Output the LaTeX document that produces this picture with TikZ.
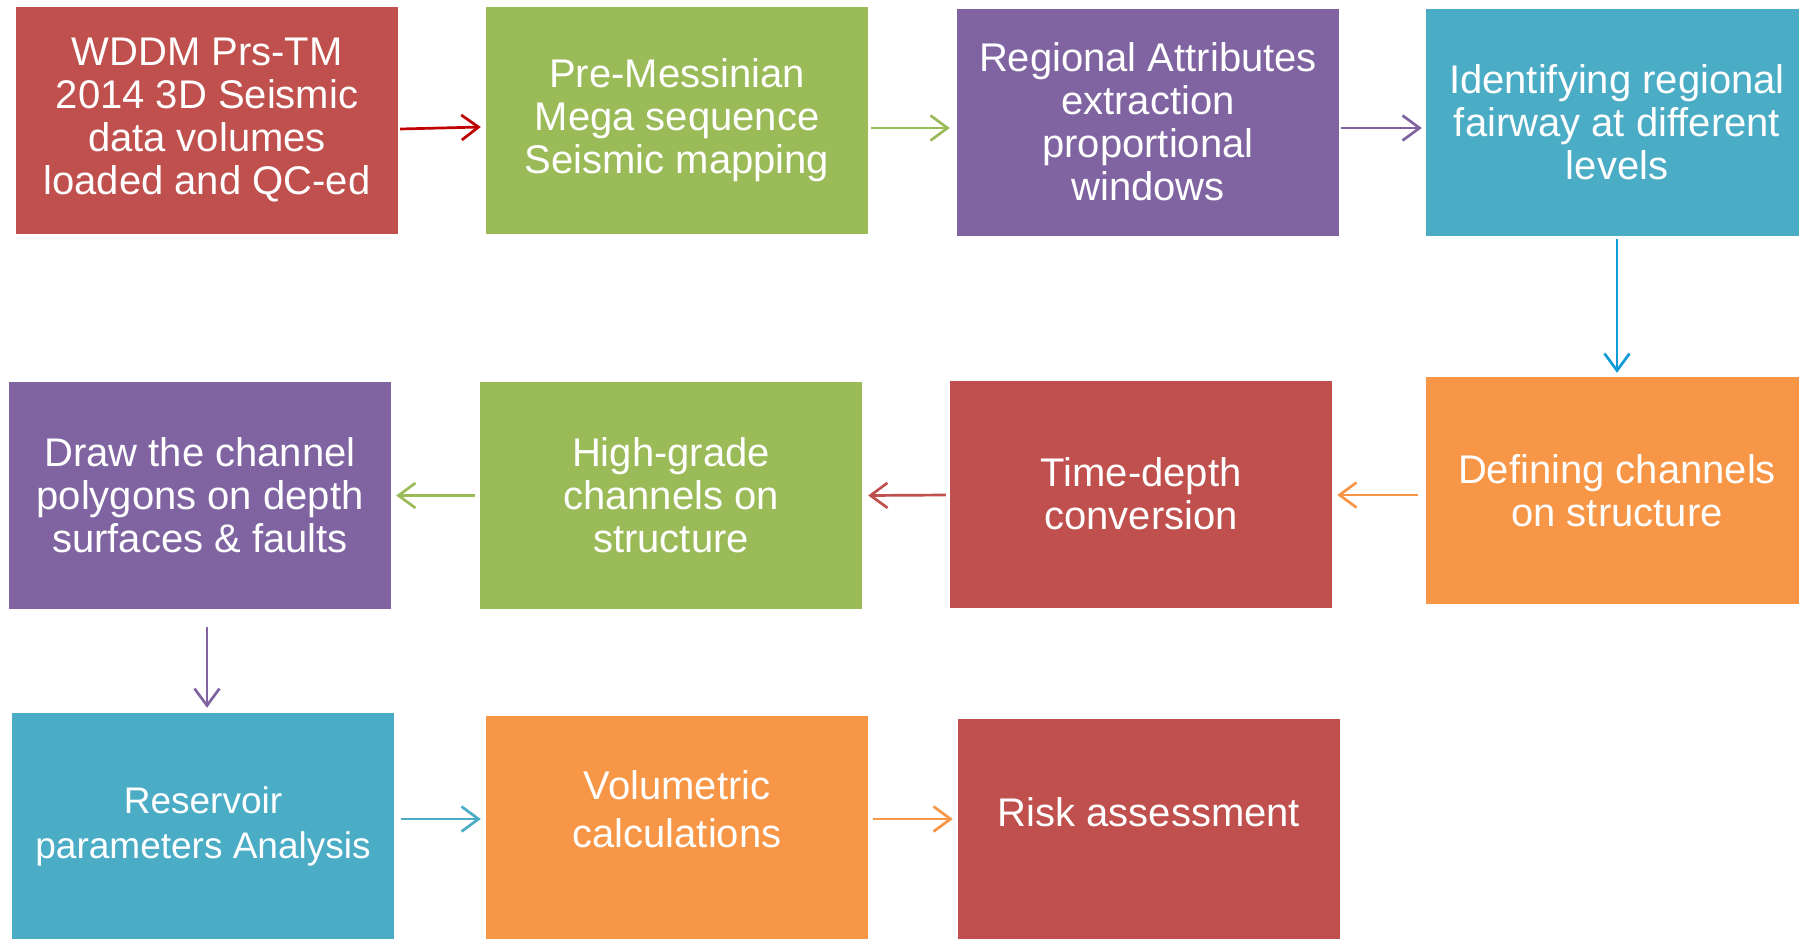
\documentclass[tikz,border=0pt]{standalone}
\usepackage{fontspec}
\setmainfont{Liberation Sans}
\usetikzlibrary{arrows.meta}
\definecolor{ored}{HTML}{C0504D}
\definecolor{ogreen}{HTML}{9BBB59}
\definecolor{opurple}{HTML}{8064A2}
\definecolor{oaqua}{HTML}{4BACC6}
\definecolor{oorange}{HTML}{F79646}
\definecolor{dred}{HTML}{C00000}
\definecolor{dblue}{HTML}{119BD6}
\begin{document}
\begin{tikzpicture}[x=1pt,y=-1pt,
		box/.style={minimum width=382pt, minimum height=227pt, inner sep=0pt},
		txt/.style={text=white, align=center, font=\fontsize{40}{43}\selectfont},
		link/.style={line width=2.7pt, -{Straight Barb[length=17pt,width=25pt]}}]
		\useasboundingbox (0, 0) rectangle (1799, 938);
		\clip (0, 0) rectangle (1799, 938);
		%%%%%%%%%%%%%
		\node [box, txt, fill = ored] (b1) at (207, 120) {WDDM Prs-TM\\2014 3D Seismic\\data volumes\\loaded and QC-ed};
		\node [box, txt, fill = ogreen] (b2) at (677, 120) {Pre-Messinian\\Mega sequence\\Seismic mapping};
		\node [box, txt, fill = opurple] (b3) at (1148, 122) {Regional Attributes\\extraction\\proportional\\windows};
		\node [box, txt, fill = oaqua] (b4) at (1617, 122) {Identifying regional\\fairway at different\\levels};
		\node [box, txt, fill = oorange] (b5) at (1617, 490.5) {Defining channels\\on structure};
		\node [box, txt, fill = ored] (b6) at (1141, 494) {Time-depth\\conversion};
		\node [box, txt, fill = ogreen] (b7) at (671, 495.5) {High-grade\\channels on\\structure};
		\node [box, txt, fill = opurple] (b8) at (200, 495.5) {Draw the channel\\polygons on depth\\surfaces \& faults};
		\node [box, txt, fill = oaqua, font=\fontsize{37}{45}\selectfont] (b9) at (203, 826.5) {Reservoir\\parameters Analysis};
		\node [box, fill = oorange] (b10) at (677, 829.5) {};
		\node [box, fill = ored] (b11) at (1149, 832.5) {};
		\node [txt, font=\fontsize{40}{48}\selectfont] (t10) at ([yshift=20pt]b10.center) {Volumetric\\calculations};
		\node [txt] (t11) at ([yshift=20pt]b11.center) {Risk assessment};
		%%%%%%%%%%%%%
		\draw [link, dred] ([shift={(2,9)}]b1.east) to ([shift={(-5,7)}]b2.west);
		\draw [link, ogreen] ([shift={(3,8)}]b2.east) to ([shift={(-7,6)}]b3.west);
		\draw [link, opurple] ([shift={(2,6)}]b3.east) to ([shift={(-4,6)}]b4.west);
		\draw [link, dblue] ([shift={(0,3)}]b4.south) to ([shift={(0,-4)}]b5.north);
		\draw [link, oorange] ([shift={(-8,4.5)}]b5.west) to ([shift={(5,1)}]b6.east);
		\draw [link, ored] ([shift={(-4,1)}]b6.west) to ([shift={(6,0)}]b7.east);
		\draw [link, ogreen] ([shift={(-5,0)}]b7.west) to ([shift={(5,0)}]b8.east);
		\draw [link, opurple] ([shift={(7,18)}]b8.south) to ([shift={(4,-5)}]b9.north);
		\draw [link, oaqua] ([shift={(7,-7.5)}]b9.east) to ([shift={(-5,-10.5)}]b10.west);
		\draw [link, oorange] ([shift={(5,-10.5)}]b10.east) to ([shift={(-5,-13.5)}]b11.west);
	\end{tikzpicture}
\end{document}
